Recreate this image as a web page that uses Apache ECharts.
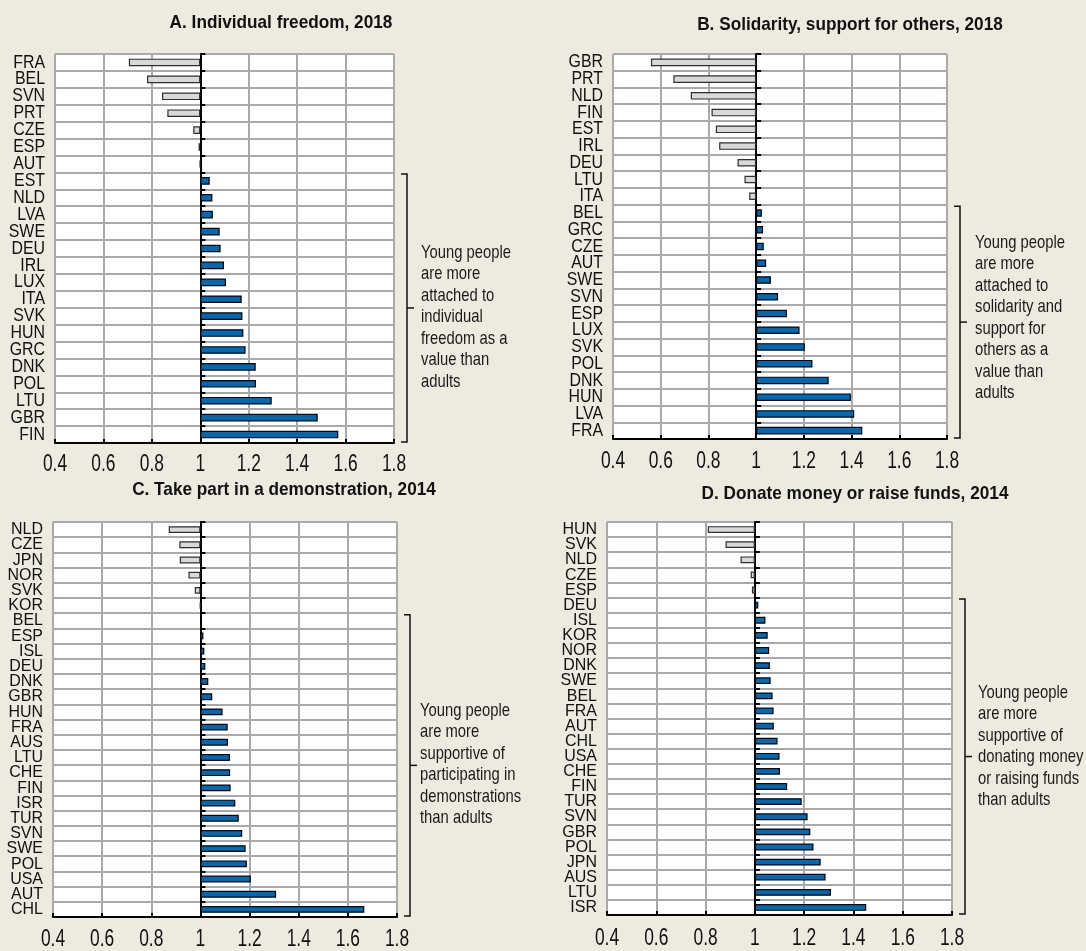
<!DOCTYPE html>
<html>
<head>
<meta charset="utf-8">
<script src="https://cdn.jsdelivr.net/npm/echarts@6/dist/echarts.min.js"></script>
<style>
  html, body { margin: 0; padding: 0; background: #EDEBE0; }
  #chart { width: 1086px; height: 951px; }
</style>
</head>
<body>
<div id="chart"></div>
<script>
// Ratio of young people's to adults' attachment / support (1 = same as adults)
const xTicks = [0.4, 0.6, 0.8, 1, 1.2, 1.4, 1.6, 1.8];

const titleA = 'A. Individual freedom, 2018';
const catsA = ['FRA','BEL','SVN','PRT','CZE','ESP','AUT','EST','NLD','LVA','SWE','DEU','IRL','LUX','ITA','SVK','HUN','GRC','DNK','POL','LTU','GBR','FIN'];
const valsA = [0.705,0.780,0.842,0.864,0.971,0.993,0.998,1.039,1.050,1.052,1.080,1.084,1.098,1.106,1.171,1.174,1.178,1.187,1.229,1.230,1.295,1.485,1.570];
const noteA = ['Young people','are more','attached to','individual','freedom as a','value than','adults'];

const titleB = 'B. Solidarity, support for others, 2018';
const catsB = ['GBR','PRT','NLD','FIN','EST','IRL','DEU','LTU','ITA','BEL','GRC','CZE','AUT','SWE','SVN','ESP','LUX','SVK','POL','DNK','HUN','LVA','FRA'];
const valsB = [0.559,0.653,0.726,0.813,0.831,0.845,0.922,0.951,0.971,1.024,1.029,1.032,1.042,1.062,1.092,1.129,1.182,1.204,1.236,1.304,1.397,1.411,1.445];
const noteB = ['Young people','are more','attached to','solidarity and','support for','others as a','value than','adults'];

const titleC = 'C. Take part in a demonstration, 2014';
const catsC = ['NLD','CZE','JPN','NOR','SVK','KOR','BEL','ESP','ISL','DEU','DNK','GBR','HUN','FRA','AUS','LTU','CHE','FIN','ISR','TUR','SVN','SWE','POL','USA','AUT','CHL'];
const valsC = [0.871,0.914,0.916,0.951,0.977,0.998,1.006,1.012,1.016,1.020,1.032,1.048,1.090,1.111,1.112,1.120,1.121,1.123,1.142,1.156,1.170,1.184,1.189,1.205,1.308,1.667];
const noteC = ['Young people','are more','supportive of','participating in','demonstrations','than adults'];

const titleD = 'D. Donate money or raise funds, 2014';
const catsD = ['HUN','SVK','NLD','CZE','ESP','DEU','ISL','KOR','NOR','DNK','SWE','BEL','FRA','AUT','CHL','USA','CHE','FIN','TUR','SVN','GBR','POL','JPN','AUS','LTU','ISR'];
const valsD = [0.809,0.881,0.942,0.983,0.988,1.014,1.043,1.052,1.058,1.061,1.064,1.072,1.076,1.077,1.092,1.100,1.102,1.131,1.190,1.214,1.225,1.238,1.267,1.287,1.309,1.452];
const noteD = ['Young people','are more','supportive of','donating money','or raising funds','than adults'];

// Bars grow from the parity line at 1, so the value axis is expressed relative to it.
const BASE = 1;
const FONT = "'Liberation Sans Narrow','Arial Narrow','Liberation Sans',Arial,sans-serif";
const GRID_COLOR = '#a9a9a9';
const INK = '#111';

const panels = [
  { title: titleA, cats: catsA, vals: valsA, note: noteA,
    rect: { left: 55, top: 54, width: 339, height: 389 },
    cat: { size: 18.5, sx: 0.86 }, tickDy: 22, titleX: 281, titleY: 23, noteX: 421, noteY: 242 },
  { title: titleB, cats: catsB, vals: valsB, note: noteB,
    rect: { left: 613, top: 54, width: 334, height: 385 },
    cat: { size: 18.5, sx: 0.86 }, tickDy: 23, titleX: 850, titleY: 25, noteX: 975, noteY: 232 },
  { title: titleC, cats: catsC, vals: valsC, note: noteC,
    rect: { left: 53, top: 522, width: 344, height: 395 },
    cat: { size: 17, sx: 0.94 }, tickDy: 23, titleX: 284, titleY: 490, noteX: 420, noteY: 700 },
  { title: titleD, cats: catsD, vals: valsD, note: noteD,
    rect: { left: 607, top: 522, width: 345, height: 393 },
    cat: { size: 17, sx: 0.94 }, tickDy: 24, titleX: 855, titleY: 494, noteX: 978, noteY: 682 }
];

const blueStyle = { color: '#0067B1', borderColor: '#050505', borderWidth: 1.2 };
const grayStyle = { color: '#D9D9D9', borderColor: '#2e2e2e', borderWidth: 1.2 };

const grid = [], xAxis = [], yAxis = [], series = [];
panels.forEach((p, i) => {
  grid.push({ left: p.rect.left, top: p.rect.top, width: p.rect.width, height: p.rect.height,
              show: true, backgroundColor: '#ffffff', borderWidth: 0 });
  xAxis.push({
    type: 'value', gridIndex: i,
    min: xTicks[0] - BASE, max: xTicks[xTicks.length - 1] - BASE, interval: 0.2,
    axisLine: { show: true, onZero: false, lineStyle: { color: '#000', width: 2 } },
    axisTick: { show: true, inside: true, length: 4, lineStyle: { color: '#000', width: 2 } },
    axisLabel: { show: false },
    splitLine: { show: true, lineStyle: { color: GRID_COLOR, width: 2 } }
  });
  // row separators
  yAxis.push({
    type: 'category', gridIndex: i, data: p.cats, inverse: true, position: 'left',
    axisLine: { show: false, onZero: false }, axisTick: { show: false }, axisLabel: { show: false },
    splitLine: { show: true, interval: 0, lineStyle: { color: GRID_COLOR, width: 2 } }
  });
  // parity line at 1 with small row ticks
  yAxis.push({
    type: 'category', gridIndex: i, data: p.cats, inverse: true, position: 'left',
    axisLine: { show: true, onZero: true, lineStyle: { color: '#000', width: 2 } },
    axisTick: { show: true, inside: true, length: 5, interval: 0, lineStyle: { color: '#000', width: 2 } },
    axisLabel: { show: false }, splitLine: { show: false }
  });
  series.push({
    type: 'bar', xAxisIndex: i, yAxisIndex: 2 * i + 1, barWidth: '45%', silent: true,
    data: p.vals.map(v => ({ value: +(v - BASE).toFixed(4), itemStyle: v < BASE ? grayStyle : blueStyle }))
  });
});

const chart = echarts.init(document.getElementById('chart'), null, { renderer: 'canvas' });
chart.setOption({
  backgroundColor: '#EDEBE0',
  animation: false,
  grid, xAxis, yAxis, series
});

// Narrow-set text: the labels are drawn with a horizontal squeeze around their anchor.
function label(x, y, text, size, sx, align, vAlign, extra) {
  return {
    type: 'text', x, y, scaleX: sx, silent: true,
    style: Object.assign({ text, font: size + 'px ' + FONT, fill: INK,
      textAlign: align, textVerticalAlign: vAlign, align, verticalAlign: vAlign }, extra || {})
  };
}

const graphic = [];
panels.forEach((p, i) => {
  const yIdx = 2 * i + 1;
  const leftX = chart.convertToPixel({ xAxisIndex: i }, xTicks[0] - BASE);
  const rightX = chart.convertToPixel({ xAxisIndex: i }, xTicks[xTicks.length - 1] - BASE);
  const c0 = chart.convertToPixel({ yAxisIndex: yIdx }, 0);
  const band = chart.convertToPixel({ yAxisIndex: yIdx }, 1) - c0;
  const gridBottom = chart.convertToPixel({ yAxisIndex: yIdx }, p.cats.length - 1) + band / 2;

  // panel title
  graphic.push(label(p.titleX, p.titleY, p.title, 18.5, 0.93, 'center', 'middle',
                     { font: 'bold 18.5px ' + FONT }));

  // country codes
  p.cats.forEach((c, k) => {
    const cy = chart.convertToPixel({ yAxisIndex: yIdx }, k);
    graphic.push(label(leftX - 10, cy, c, p.cat.size, p.cat.sx, 'right', 'middle'));
  });

  // value-axis tick labels
  xTicks.forEach(t => {
    const tx = chart.convertToPixel({ xAxisIndex: i }, t - BASE);
    graphic.push(label(tx, gridBottom + p.tickDy, String(t), 23.5, 0.74, 'center', 'middle'));
  });

  // bracket around the countries above parity
  const firstPos = p.vals.findIndex(v => v >= BASE);
  const top = chart.convertToPixel({ yAxisIndex: yIdx }, firstPos) - band / 2 + 1.5;
  const bottom = gridBottom - 1;
  const bx = rightX + 13;
  const mid = (top + bottom) / 2;
  graphic.push({
    type: 'polyline', silent: true,
    shape: { points: [[bx - 6, top], [bx, top], [bx, bottom], [bx - 6, bottom]] },
    style: { stroke: INK, lineWidth: 1.5, fill: null }
  });
  graphic.push({
    type: 'line', silent: true,
    shape: { x1: bx, y1: mid, x2: bx + 7, y2: mid },
    style: { stroke: INK, lineWidth: 1.5 }
  });

  // note beside the bracket
  graphic.push(label(p.noteX, p.noteY, p.note.join('\n'), 18.5, 0.8, 'left', 'top',
                     { lineHeight: 21.5, fill: '#1a1a1a' }));
});
chart.setOption({ graphic });
</script>
</body>
</html>
